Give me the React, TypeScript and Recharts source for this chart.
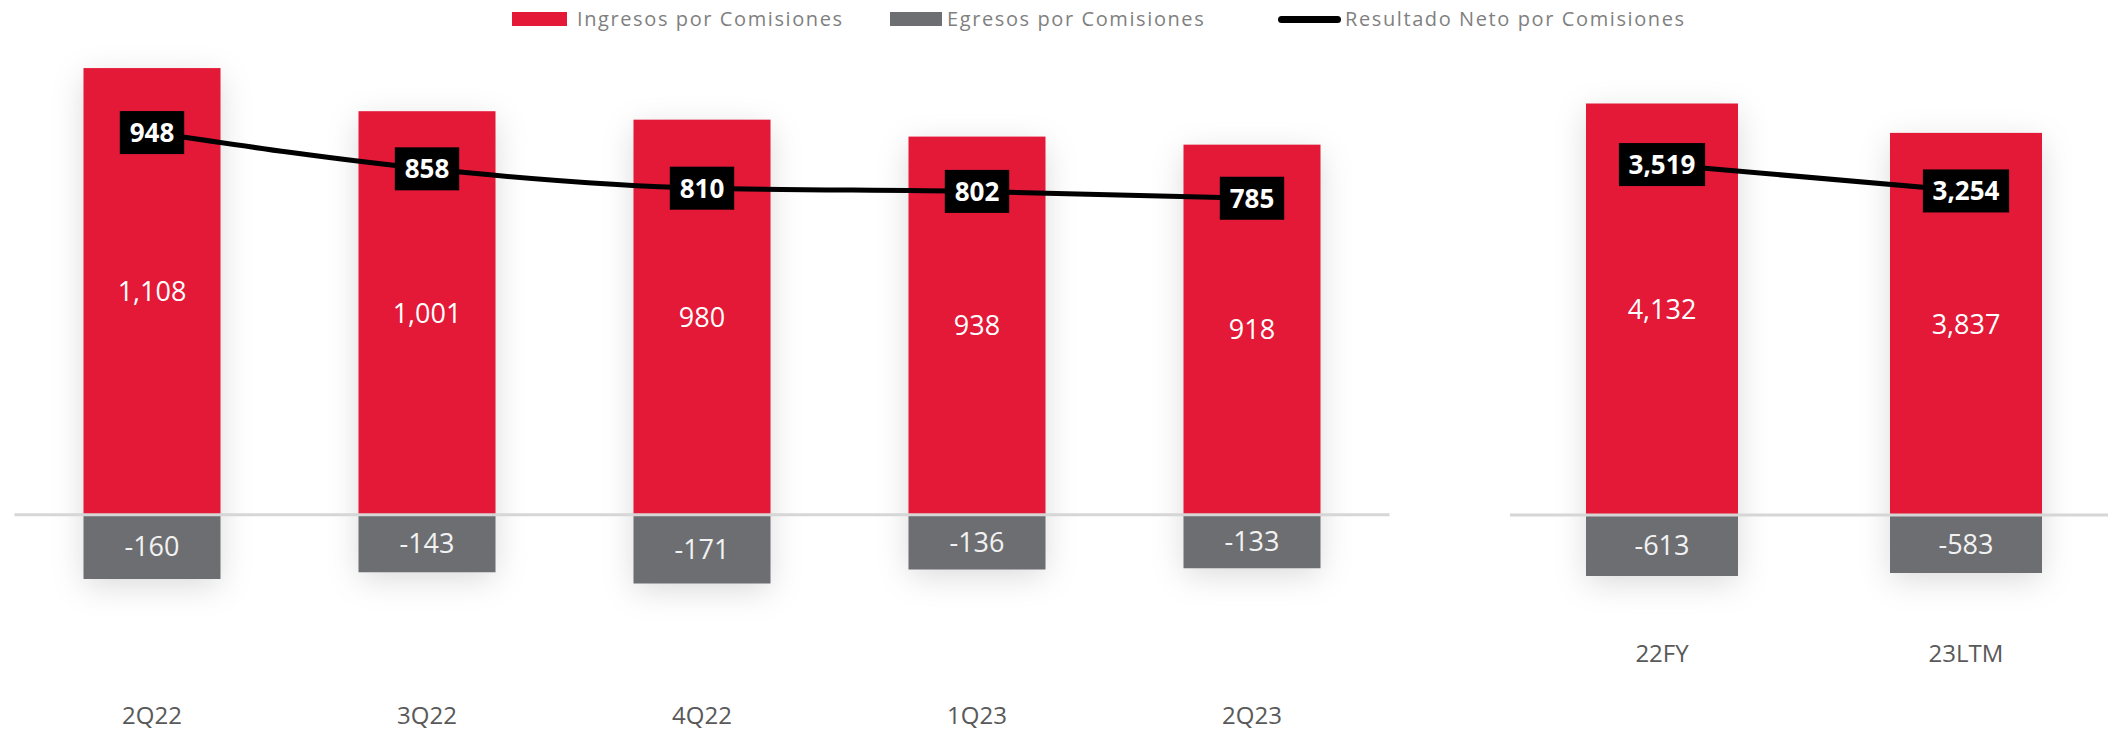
import {
  Bar,
  ComposedChart,
  LabelList,
  Line,
  ReferenceLine,
  XAxis,
  YAxis
} from "recharts";

const quarters = ["2Q22", "3Q22", "4Q22", "1Q23", "2Q23"];
const quarterIngresos = [1108, 1001, 980, 938, 918];
const quarterEgresos = [-160, -143, -171, -136, -133];
const quarterNeto = [948, 858, 810, 802, 785];

const periods = ["22FY", "23LTM"];
const periodIngresos = [4132, 3837];
const periodEgresos = [-613, -583];
const periodNeto = [3519, 3254];

const RED = "#E31937";
const GRAY = "#6D6E71";
const FONT = "'Open Sans', 'DejaVu Sans', sans-serif";

const quarterData = quarters.map((label, i) => ({
  label,
  ingresos: quarterIngresos[i],
  egresos: quarterEgresos[i],
  neto: quarterNeto[i]
}));

const periodData = periods.map((label, i) => ({
  label,
  ingresos: periodIngresos[i],
  egresos: periodEgresos[i],
  neto: periodNeto[i]
}));

const fmt = (v: number) => v.toLocaleString("en-US");

// red bar with a soft shadow that covers the whole stacked column
function shadowBar(filterId: string) {
  return function ShadowBar(props: any) {
    const { x, y, width, height, payload } = props;
    const pxPerUnit = height / payload.ingresos;
    const full = height + Math.abs(payload.egresos) * pxPerUnit;
    return (
      <g>
        <rect
          x={x + 1}
          y={y + 1}
          width={width - 2}
          height={full - 3}
          fill={GRAY}
          filter={`url(#${filterId})`}
        />
        <rect x={x} y={y} width={width} height={height} fill={RED} />
      </g>
    );
  };
}

function NetLabel(props: any) {
  const { x, y, value } = props;
  const text = fmt(value);
  const digits = text.replace(/,/g, "").length;
  const commas = text.length - digits;
  const w = digits * 14.8 + commas * 7 + 20;
  const h = 43;
  return (
    <g>
      <rect x={x - w / 2} y={y - h / 2} width={w} height={h} fill="#000" />
      <text
        x={x}
        y={y}
        dy="0.36em"
        textAnchor="middle"
        fill="#fff"
        fontFamily={FONT}
        fontWeight={700}
        fontSize={26}
      >
        {text}
      </text>
    </g>
  );
}

const valueLabelStyle = { fill: "#fff", fontFamily: FONT, fontSize: 27 };

interface PanelProps {
  data: typeof quarterData;
  width: number;
  height: number;
  margin: { top: number; right: number; bottom: number; left: number };
  domain: [number, number];
  barSize: number;
  filterId: string;
  tickMargin: number;
}

function Panel({ data, width, height, margin, domain, barSize, filterId, tickMargin }: PanelProps) {
  return (
    <ComposedChart
      width={width}
      height={height}
      data={data}
      margin={margin}
      stackOffset="sign"
    >
      <defs>
        <filter id={filterId} x="-60%" y="-60%" width="220%" height="220%">
          <feDropShadow dx="0" dy="8" stdDeviation="16" floodColor="#000" floodOpacity="0.15" />
        </filter>
      </defs>
      <XAxis
        dataKey="label"
        height={34}
        axisLine={false}
        tickLine={false}
        tickMargin={tickMargin}
        interval={0}
        tick={{ fill: "#595959", fontFamily: FONT, fontSize: 24 }}
      />
      <YAxis hide domain={domain} allowDataOverflow type="number" />
      <Bar
        dataKey="ingresos"
        stackId="a"
        fill={RED}
        barSize={barSize}
        shape={shadowBar(filterId)}
        isAnimationActive={false}
      >
        <LabelList dataKey="ingresos" position="center" formatter={fmt} style={valueLabelStyle} />
      </Bar>
      <Bar dataKey="egresos" stackId="a" fill={GRAY} barSize={barSize} isAnimationActive={false}>
        <LabelList
          dataKey="egresos"
          position="center"
          formatter={fmt}
          style={{ ...valueLabelStyle, fill: "#f2f2f2" }}
        />
      </Bar>
      <ReferenceLine y={0} stroke="#d6d6d6" strokeWidth={3} />
      <Line
        dataKey="neto"
        type="monotone"
        stroke="#000"
        strokeWidth={5}
        dot={false}
        activeDot={false}
        isAnimationActive={false}
      >
        <LabelList dataKey="neto" content={NetLabel} />
      </Line>
    </ComposedChart>
  );
}

function LegendRow() {
  const text = {
    position: "absolute" as const,
    top: 0,
    lineHeight: "38px",
    fontFamily: FONT,
    fontSize: 20,
    letterSpacing: "1.6px",
    color: "#7f7f7f",
    whiteSpace: "nowrap" as const
  };
  return (
    <>
      <div style={{ position: "absolute", left: 512, top: 12, width: 55, height: 14, background: RED }} />
      <div style={{ ...text, left: 577 }}>Ingresos por Comisiones</div>
      <div style={{ position: "absolute", left: 890, top: 12, width: 52, height: 14, background: GRAY }} />
      <div style={{ ...text, left: 947 }}>Egresos por Comisiones</div>
      <div
        style={{
          position: "absolute",
          left: 1278,
          top: 15.5,
          width: 63,
          height: 7,
          borderRadius: 4,
          background: "#000"
        }}
      />
      <div style={{ ...text, left: 1345 }}>Resultado Neto por Comisiones</div>
    </>
  );
}

export default function App() {
  return (
    <div
      style={{
        position: "absolute",
        left: 0,
        top: 0,
        width: 2108,
        height: 730,
        background: "#fff",
        overflow: "hidden"
      }}
    >
      <div style={{ position: "absolute", left: 0, top: 0 }}>
        <Panel
          data={quarterData}
          width={1400}
          height={730}
          margin={{ top: 31, right: 10.5, bottom: 0, left: 14.5 }}
          domain={[-450, 1200]}
          barSize={137}
          filterId="shadowQ"
          tickMargin={5}
        />
      </div>
      <div style={{ position: "absolute", left: 1510, top: 0, width: 598, height: 730, overflow: "hidden" }}>
        <Panel
          data={periodData}
          width={608}
          height={730}
          margin={{ top: 31, right: 0, bottom: 59, left: 0 }}
          domain={[-1225, 4860]}
          barSize={152}
          filterId="shadowP"
          tickMargin={2}
        />
      </div>
      <LegendRow />
    </div>
  );
}
